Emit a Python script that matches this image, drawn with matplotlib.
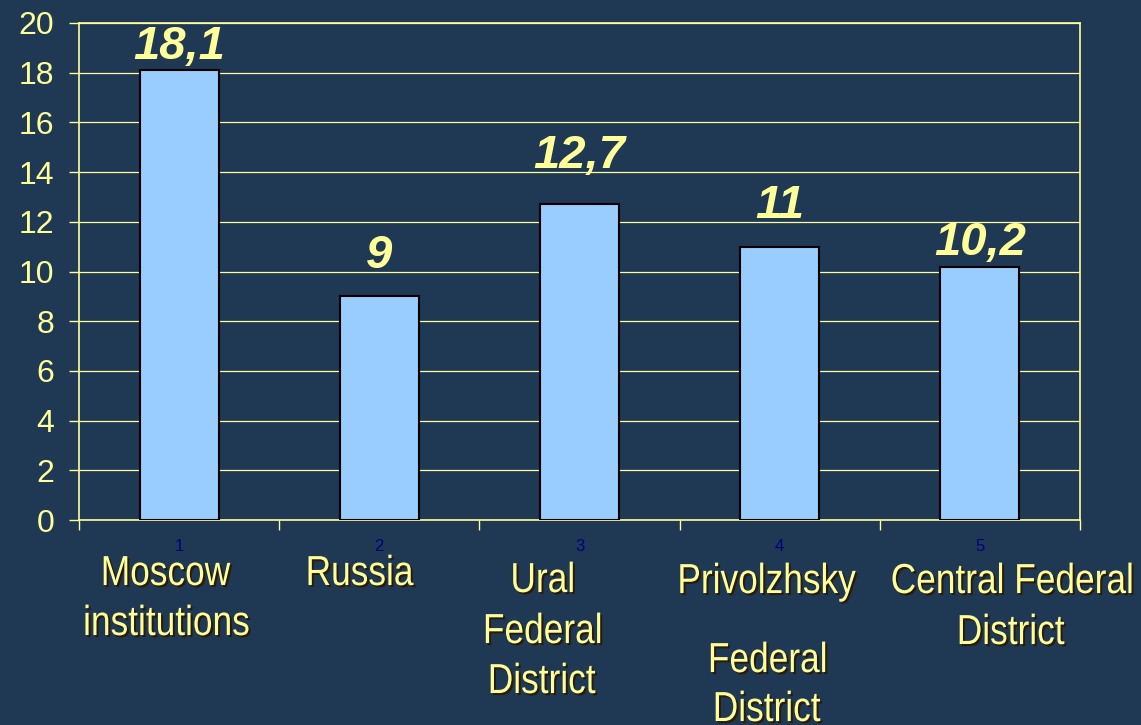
import matplotlib
matplotlib.use("Agg")
import matplotlib.pyplot as plt
from matplotlib.font_manager import FontProperties
from matplotlib.textpath import TextPath
from matplotlib.patches import PathPatch
from matplotlib.transforms import Affine2D
import numpy as np

# ---- data --------------------------------------------------------------------
tick_nums = ["1", "2", "3", "4", "5"]
values = [18.1, 9, 12.7, 11, 10.2]
value_labels = ["18,1", "9", "12,7", "11", "10,2"]
cat_lines = [["Moscow", "institutions"],
             ["Russia"],
             ["Ural", "Federal", "District"],
             ["Privolzhsky", "Federal", "District"],
             ["Central Federal", "District"]]

# ---- style -------------------------------------------------------------------
bg = "#1f3854"
yellow = "#ffff99"
bar_col = "#99ccff"
W, H = 1141, 725
plt.rcParams['font.family'] = ['Liberation Sans', 'DejaVu Sans']

fig = plt.figure(figsize=(W / 100, H / 100), dpi=100, facecolor=bg)
ax = fig.add_axes([79 / W, 1 - 520 / H, 1001 / W, 497 / H], facecolor=bg)

x = np.arange(len(values))
ax.bar(x, values, width=0.395, color=bar_col, edgecolor="black", linewidth=1.5, zorder=3)

ax.set_xlim(-0.5, len(values) - 0.5)
ax.set_ylim(0, 20)
ax.set_yticks(np.arange(0, 21, 2))
ax.yaxis.grid(True, color=yellow, linewidth=0.9, zorder=0)
ax.set_axisbelow(True)
for s in ax.spines.values():
    s.set_color(yellow)
    s.set_linewidth(1.2)

ax.tick_params(axis="y", colors=yellow, labelsize=23, length=7, pad=11, width=1)
ax.set_xticks(x)
ax.set_xticklabels(tick_nums, color="#000080", fontsize=12)
ax.tick_params(axis="x", length=0, pad=14)
ax.set_xticks(np.arange(-0.5, len(values)), minor=True)
ax.tick_params(axis="x", which="minor", length=7, color=yellow, width=1)

# value labels (hand-placed in the original, so per-label lift above the bar)
lift_px = [11, 28, 36, 29, 12]
for xi, v, lab, lp in zip(x, values, value_labels, lift_px):
    ax.annotate(lab, (xi, v), xytext=(0, lp / 1.389), textcoords="offset points",
                ha="center", va="baseline", fontsize=34, fontweight="bold",
                fontstyle="italic", color=yellow)

# category labels: condensed Arial-like text with a dark drop shadow
label_x = [167, 361, 543, 768, 1012]
line_y = [[570, 620], [570], [577, 628, 678], [578, 657, 706], [578, 629]]
fp = FontProperties(family="Liberation Sans")
em = 42      # px
squeeze = 0.84
cap = 0.716 * em
for lx, lines, ys in zip(label_x, cat_lines, line_y):
    for line, ly in zip(lines, ys):
        tp = TextPath((0, 0), line, size=em, prop=fp)
        ext = tp.get_extents()
        cx = (ext.x0 + ext.x1) / 2
        base = H - (ly + cap / 2)
        for dx, dy, col in [(2, -2, "#2a1a08"), (0, 0, yellow)]:
            tr = Affine2D().translate(-cx, 0).scale(squeeze, 1).translate(lx + dx, base + dy)
            fig.add_artist(PathPatch(tp, transform=tr, facecolor=col,
                                     edgecolor="none"))

fig.savefig("out.png", dpi=100, facecolor=bg)
